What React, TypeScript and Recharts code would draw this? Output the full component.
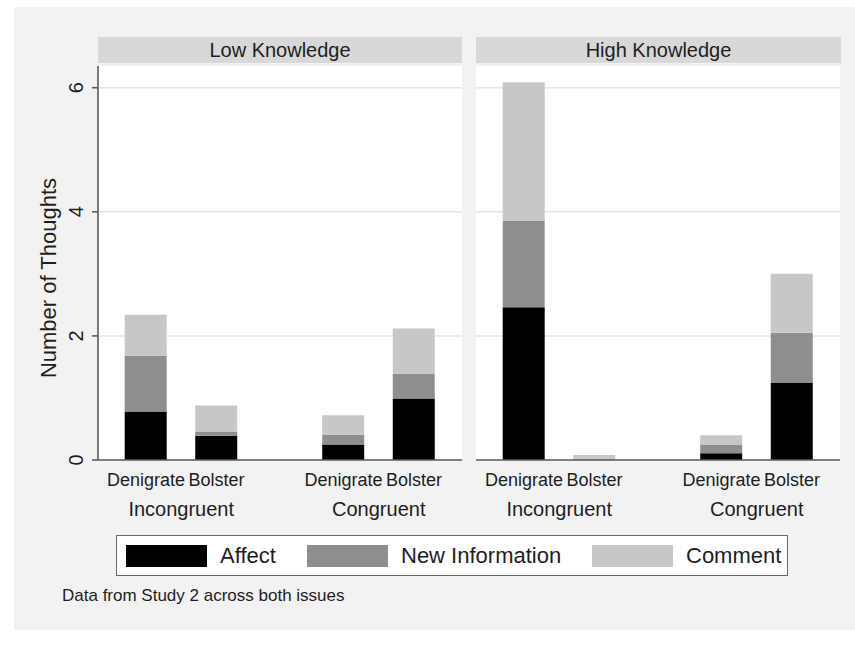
// Number of thoughts by knowledge level, congruence and strategy (Study 2).
// Two panels (Low / High Knowledge), each a stacked BarChart with two
// congruence groups of Denigrate / Bolster bars.

import { BarChart, Bar, XAxis, YAxis, CartesianGrid, Label } from "recharts";

const panels = ["Low Knowledge", "High Knowledge"];
const groups = ["Incongruent", "Congruent"];
const strategies = ["Denigrate", "Bolster"];
const seriesNames = ["Affect", "New Information", "Comment"];
const yTicks = [0, 2, 4, 6];

// bar order: Incongruent-Denigrate, Incongruent-Bolster, Congruent-Denigrate, Congruent-Bolster
const lowAffect = [0.78, 0.39, 0.25, 0.99];
const lowNewInfo = [0.9, 0.07, 0.16, 0.4];
const lowComment = [0.66, 0.42, 0.31, 0.73];

const highAffect = [2.46, 0.0, 0.11, 1.24];
const highNewInfo = [1.4, 0.02, 0.14, 0.81];
const highComment = [2.23, 0.06, 0.15, 0.95];

const COLORS = ["#000000", "#8e8e8e", "#c7c7c7"];
const KEYS = ["affect", "newInfo", "comment"];
const FONT = "'Liberation Sans', Arial, Helvetica, sans-serif";
const TEXT = "#1e1e1e";

// second group starts GROUP_STEP bar-slots after the first one
const GROUP_STEP = 2.8;
const X_DOMAIN: [number, number] = [-0.68, 2.8 + 1 + 0.68];
const Y_DOMAIN: [number, number] = [0, 6.35];

const slotOf = (g: number, i: number) => g * GROUP_STEP + i;
const barSlots = groups.flatMap((_, g) => strategies.map((_, i) => slotOf(g, i)));
const groupCenters = groups.map((_, g) => slotOf(g, 0.5));

function buildRows(affect: number[], newInfo: number[], comment: number[]) {
  return barSlots.map((slot, k) => ({
    slot,
    affect: affect[k],
    newInfo: newInfo[k],
    comment: comment[k],
  }));
}

const panelRows = [
  buildRows(lowAffect, lowNewInfo, lowComment),
  buildRows(highAffect, highNewInfo, highComment),
];

const strategyLabel = (v: number) => {
  const k = barSlots.findIndex((s) => Math.abs(s - v) < 1e-6);
  return k < 0 ? "" : strategies[k % strategies.length];
};
const groupLabel = (v: number) => {
  const k = groupCenters.findIndex((s) => Math.abs(s - v) < 1e-6);
  return k < 0 ? "" : groups[k];
};

// Stata-style vertical y tick labels
function RotatedTick(props: any) {
  const { x, y, payload } = props;
  const bx = x - 7;
  return (
    <text
      x={bx}
      y={y}
      transform={`rotate(-90, ${bx}, ${y})`}
      textAnchor="middle"
      fontSize={20}
      fontFamily={FONT}
      fill={TEXT}
    >
      {payload.value}
    </text>
  );
}

const PLOT_H = 394;
const SLOT_AXIS_H = 34;
const GROUP_AXIS_H = 34;
const CHART_H = PLOT_H + SLOT_AXIS_H + GROUP_AXIS_H;
const Y_AXIS_W = 98;
const PANEL_W = 364;

function Panel({ index }: { index: number }) {
  const withAxis = index === 0;
  const width = PANEL_W + (withAxis ? Y_AXIS_W : 0);
  return (
    <BarChart
      width={width}
      height={CHART_H}
      data={panelRows[index]}
      margin={{ top: 0, right: 0, bottom: 0, left: 0 }}
      style={{ overflow: "visible" }}
    >
      <CartesianGrid
        vertical={false}
        horizontalValues={yTicks}
        stroke="#e6e6e6"
        strokeWidth={1.5}
        fill="#ffffff"
        fillOpacity={1}
      />
      {/* group labels (outer row) */}
      <XAxis
        xAxisId="b"
        type="number"
        dataKey="slot"
        domain={X_DOMAIN}
        allowDataOverflow
        ticks={groupCenters}
        interval={0}
        tickFormatter={groupLabel}
        height={GROUP_AXIS_H}
        tickLine={false}
        tickSize={0}
        tickMargin={8}
        axisLine={false}
        tick={{ fontSize: 20, fill: TEXT, fontFamily: FONT }}
      />
      {/* strategy labels under each bar */}
      <XAxis
        xAxisId="a"
        type="number"
        dataKey="slot"
        domain={X_DOMAIN}
        allowDataOverflow
        ticks={barSlots}
        interval={0}
        tickFormatter={strategyLabel}
        height={SLOT_AXIS_H}
        tickLine={false}
        tickSize={0}
        tickMargin={13}
        axisLine={{ stroke: "#5c5c5c", strokeWidth: 1.6 }}
        tick={{ fontSize: 18, fill: TEXT, fontFamily: FONT }}
      />
      <YAxis
        type="number"
        domain={Y_DOMAIN}
        ticks={yTicks}
        interval={0}
        hide={!withAxis}
        width={Y_AXIS_W}
        tickSize={6}
        tickMargin={2}
        tick={<RotatedTick />}
        tickLine={{ stroke: "#5c5c5c", strokeWidth: 1.6 }}
        axisLine={{ stroke: "#5c5c5c", strokeWidth: 1.6 }}
      >
        {withAxis && (
          <Label
            content={(p: any) => {
              const vb = p.viewBox || {};
              const cx = (vb.x || 0) + 48;
              const cy = (vb.y || 0) + (vb.height || 0) / 2 + 15;
              return (
                <text
                  x={cx}
                  y={cy}
                  transform={`rotate(-90, ${cx}, ${cy})`}
                  textAnchor="middle"
                  dominantBaseline="central"
                  fontSize={22}
                  fontFamily={FONT}
                  fill={TEXT}
                >
                  Number of Thoughts
                </text>
              );
            }}
          />
        )}
      </YAxis>
      {KEYS.map((key, s) => (
        <Bar
          key={key}
          xAxisId="a"
          dataKey={key}
          name={seriesNames[s]}
          stackId="thoughts"
          fill={COLORS[s]}
          barSize={42}
          isAnimationActive={false}
        />
      ))}
    </BarChart>
  );
}

export default function App() {
  const panelLeft = [0, 476];
  return (
    <div
      style={{
        position: "fixed",
        left: 0,
        top: 0,
        width: 855,
        height: 656,
        background: "#ffffff",
        fontFamily: FONT,
        overflow: "hidden",
      }}
    >
      <div
        style={{
          position: "absolute",
          left: 14,
          top: 7,
          width: 841,
          height: 623,
          background: "#f2f2f2",
        }}
      />
      {panels.map((title, i) => (
        <div
          key={title}
          style={{
            position: "absolute",
            left: panelLeft[i] + (i === 0 ? Y_AXIS_W : 0),
            top: 37,
            width: PANEL_W + (i === 0 ? 0 : 1),
            height: 26,
            background: "#d8d8d8",
            color: TEXT,
            fontSize: 20,
            lineHeight: "26px",
            textAlign: "center",
          }}
        >
          {title}
        </div>
      ))}
      {panels.map((title, i) => (
        <div key={title + "-chart"} style={{ position: "absolute", left: panelLeft[i], top: 66 }}>
          <Panel index={i} />
        </div>
      ))}
      <div
        style={{
          position: "absolute",
          left: 116,
          top: 535,
          width: 670,
          height: 39,
          background: "#ffffff",
          border: "1.5px solid #6a6a6a",
          color: TEXT,
          fontSize: 22,
        }}
      >
        {seriesNames.map((name, s) => {
          const swatchLeft = [9, 190, 475][s];
          return (
            <div key={name}>
              <div
                style={{
                  position: "absolute",
                  left: swatchLeft,
                  top: 9,
                  width: 81,
                  height: 22,
                  background: COLORS[s],
                }}
              />
              <div
                style={{
                  position: "absolute",
                  left: swatchLeft + 94,
                  top: 0,
                  lineHeight: "39px",
                  whiteSpace: "nowrap",
                }}
              >
                {name}
              </div>
            </div>
          );
        })}
      </div>
      <div
        style={{
          position: "absolute",
          left: 62,
          top: 585,
          fontSize: 17,
          lineHeight: "22px",
          color: TEXT,
          whiteSpace: "nowrap",
        }}
      >
        Data from Study 2 across both issues
      </div>
    </div>
  );
}
